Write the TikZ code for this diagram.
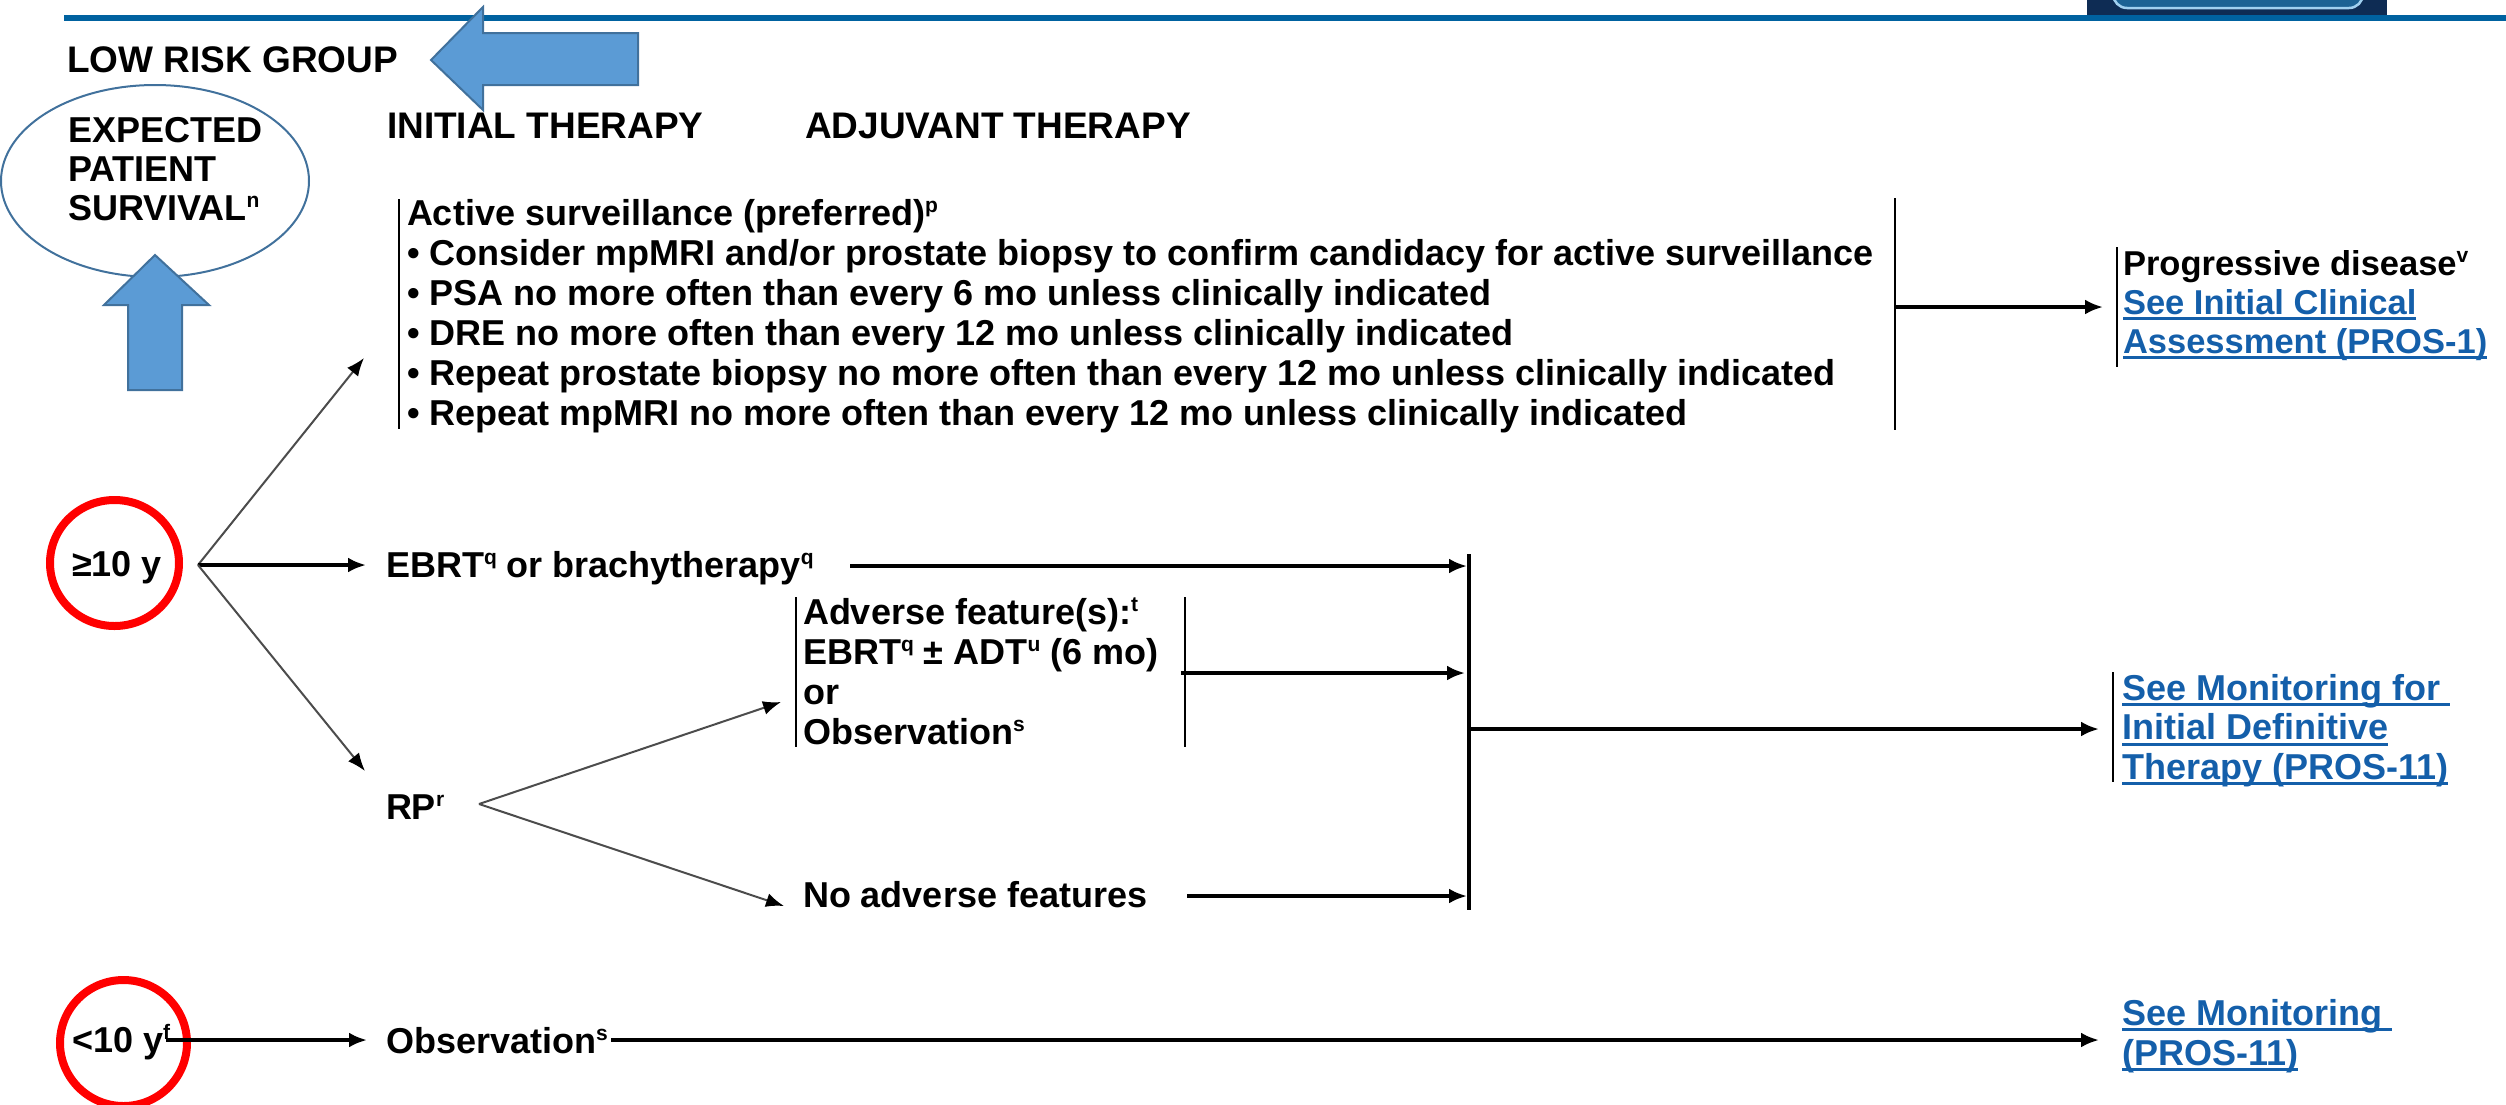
\documentclass[tikz,border=0pt]{standalone}
\usepackage{fontspec}
\setmainfont{Liberation Sans}
\usetikzlibrary{arrows.meta}
\definecolor{rulebl}{RGB}{0,98,160}
\definecolor{lnkbl}{RGB}{20,95,170}
\definecolor{arrfill}{RGB}{91,155,213}
\definecolor{arrline}{RGB}{65,113,156}
\definecolor{navybox}{RGB}{14,44,84}
\definecolor{innerbl}{RGB}{28,98,148}
\definecolor{lightbl}{RGB}{160,208,240}
\newcommand\sps[1]{\raisebox{13pt}{\fontsize{21}{21}\selectfont #1}}
\newsavebox\lnkbox
\newcommand\lnk[1]{\sbox\lnkbox{#1}\makebox[0pt][l]{\rule[-6pt]{\wd\lnkbox}{3pt}}\usebox\lnkbox}
\begin{document}
\begin{tikzpicture}[x=1pt,y=-1pt,
  txt/.style={inner sep=0pt,outer sep=0pt,anchor=base west,align=left,
    font=\fontsize{36}{40}\selectfont\bfseries},
  hdr/.style={txt,font=\fontsize{37}{40}\selectfont\bfseries},
  linktxt/.style={txt,text=lnkbl},
  sideline/.style={line width=2.5pt,black},
  thickarr/.style={line width=3.5pt,black,-{Latex[length=18pt,width=15pt]}},
  thinarr/.style={line width=2pt,black!70,-{Latex[length=18pt,width=14pt,color=black]}},
  blockarrow/.style={fill=arrfill,draw=arrline,line width=2pt,line join=miter},
  redring/.style={draw=red,line width=8pt}]
\useasboundingbox (0,0) rectangle (2506,1104);

% top right emblem and top rule
\fill[navybox] (2087,0) rectangle (2387,15);
\begin{scope}
  \clip (2087,0) rectangle (2387,15);
  \draw[fill=innerbl,draw=lightbl,line width=2.5pt,rounded corners=14pt] (2113,-30) rectangle (2363,8);
\end{scope}
\draw[rulebl,line width=6pt] (64,18) -- (2506,18);

% headers (multi-line nodes are placed by the baseline of their last line)
\node[hdr] (low) at (67,72) {LOW RISK GROUP};
\draw[arrline,line width=2pt] (155,181) ellipse [x radius=154, y radius=96];
\node[txt,font=\fontsize{36}{39}\selectfont\bfseries] (eps) at (68,220) {EXPECTED\\PATIENT\\SURVIVAL\sps{n}};
\node[hdr] (init) at (387,138) {INITIAL THERAPY};
\node[hdr] (adj) at (805,138) {ADJUVANT THERAPY};

% blue block arrows
\draw[blockarrow] (431,60) -- (483,7) -- (483,33) -- (638,33) -- (638,85) -- (483,85) -- (483,110) -- cycle;
\draw[blockarrow] (155,255) -- (209,305) -- (182,305) -- (182,390) -- (128,390) -- (128,305) -- (104,305) -- cycle;

% active surveillance block
\node[txt] (as) at (407,425) {Active surveillance (preferred)\sps{p}\\
• Consider mpMRI and/or prostate biopsy to confirm candidacy for active surveillance\\
• PSA no more often than every 6 mo unless clinically indicated\\
• DRE no more often than every 12 mo unless clinically indicated\\
• Repeat prostate biopsy no more often than every 12 mo unless clinically indicated\\
• Repeat mpMRI no more often than every 12 mo unless clinically indicated};
\draw[sideline] (399,199) -- (399,429);
\draw[sideline] (1895,198) -- (1895,430);
\node[txt,font=\fontsize{34.5}{39}\selectfont\bfseries] (pd) at (2123,353) {Progressive disease\sps{v}\\
{\color{lnkbl}\lnk{See Initial Clinical}}\\
{\color{lnkbl}\lnk{Assessment (PROS-1)}}};
\draw[sideline] (2117,247) -- (2117,367);

% >=10 y
\draw[redring] (114.5,563) ellipse [x radius=64.5, y radius=63];
\node[txt] (ge) at (72,576) {≥10 y};
\node[txt] (ebrt) at (386,577) {EBRT\sps{q} or brachytherapy\sps{q}};
\node[txt,font=\fontsize{36}{39.7}\selectfont\bfseries] (adv) at (803,744) {Adverse feature(s):\sps{t}\\EBRT\sps{q} ± ADT\sps{u} (6 mo)\\or\\Observation\sps{s}};
\draw[sideline] (796,597) -- (796,747);
\draw[sideline] (1185,597) -- (1185,747);
\node[txt] (rp) at (386,819) {RP\sps{r}};
\node[txt] (noadv) at (803,907) {No adverse features};
\node[linktxt,font=\fontsize{36}{39.5}\selectfont\bfseries] (smf) at (2122,779) {\lnk{See Monitoring for\ }\\\lnk{Initial Definitive}\\\lnk{Therapy (PROS-11)}};
\draw[sideline] (2113,672) -- (2113,782);

% <10 y
\draw[redring] (123.5,1043) ellipse [x radius=63.5, y radius=63];
\node[txt] (lt) at (72,1052) {<10 y\sps{f}};
\node[txt] (obs) at (386,1053) {Observation\sps{s}};
\node[linktxt] (sm) at (2122,1065) {\lnk{See Monitoring\ }\\\lnk{(PROS-11)}};

% connector points
\coordinate (b1) at (198,565);
\coordinate (tas) at (364,358);
\coordinate (tebrt) at (366,565);
\coordinate (trp) at (365,771);
\coordinate (ebrtout) at (850,566);
\coordinate (vtop) at (1469,554);
\coordinate (vbot) at (1469,910);
\coordinate (tv1) at (1467,566);
\coordinate (advout) at (1181,673);
\coordinate (tv2) at (1465,673);
\coordinate (rpb) at (479,804);
\coordinate (tadv) at (781,702);
\coordinate (tnoadv) at (784,906);
\coordinate (noadvout) at (1187,896);
\coordinate (tv3) at (1467,896);
\coordinate (vmid) at (1469,729);
\coordinate (tsmf) at (2099,729);
\coordinate (asout) at (1895,307);
\coordinate (tpd) at (2103,307);
\coordinate (ltout) at (166,1040);
\coordinate (tobs) at (367,1040);
\coordinate (obsout) at (611,1040);
\coordinate (tsm) at (2099,1040);

% connectors
\draw[thinarr] (b1) -- (tas);
\draw[thickarr] (b1) -- (tebrt);
\draw[thinarr] (b1) -- (trp);
\draw[thickarr] (asout) -- (tpd);
\draw[line width=4pt] (vtop) -- (vbot);
\draw[thickarr] (ebrtout) -- (tv1);
\draw[thickarr] (advout) -- (tv2);
\draw[thinarr] (rpb) -- (tadv);
\draw[thinarr] (rpb) -- (tnoadv);
\draw[thickarr] (noadvout) -- (tv3);
\draw[thickarr] (vmid) -- (tsmf);
\draw[thickarr] (ltout) -- (tobs);
\draw[thickarr] (obsout) -- (tsm);
\end{tikzpicture}
\end{document}
